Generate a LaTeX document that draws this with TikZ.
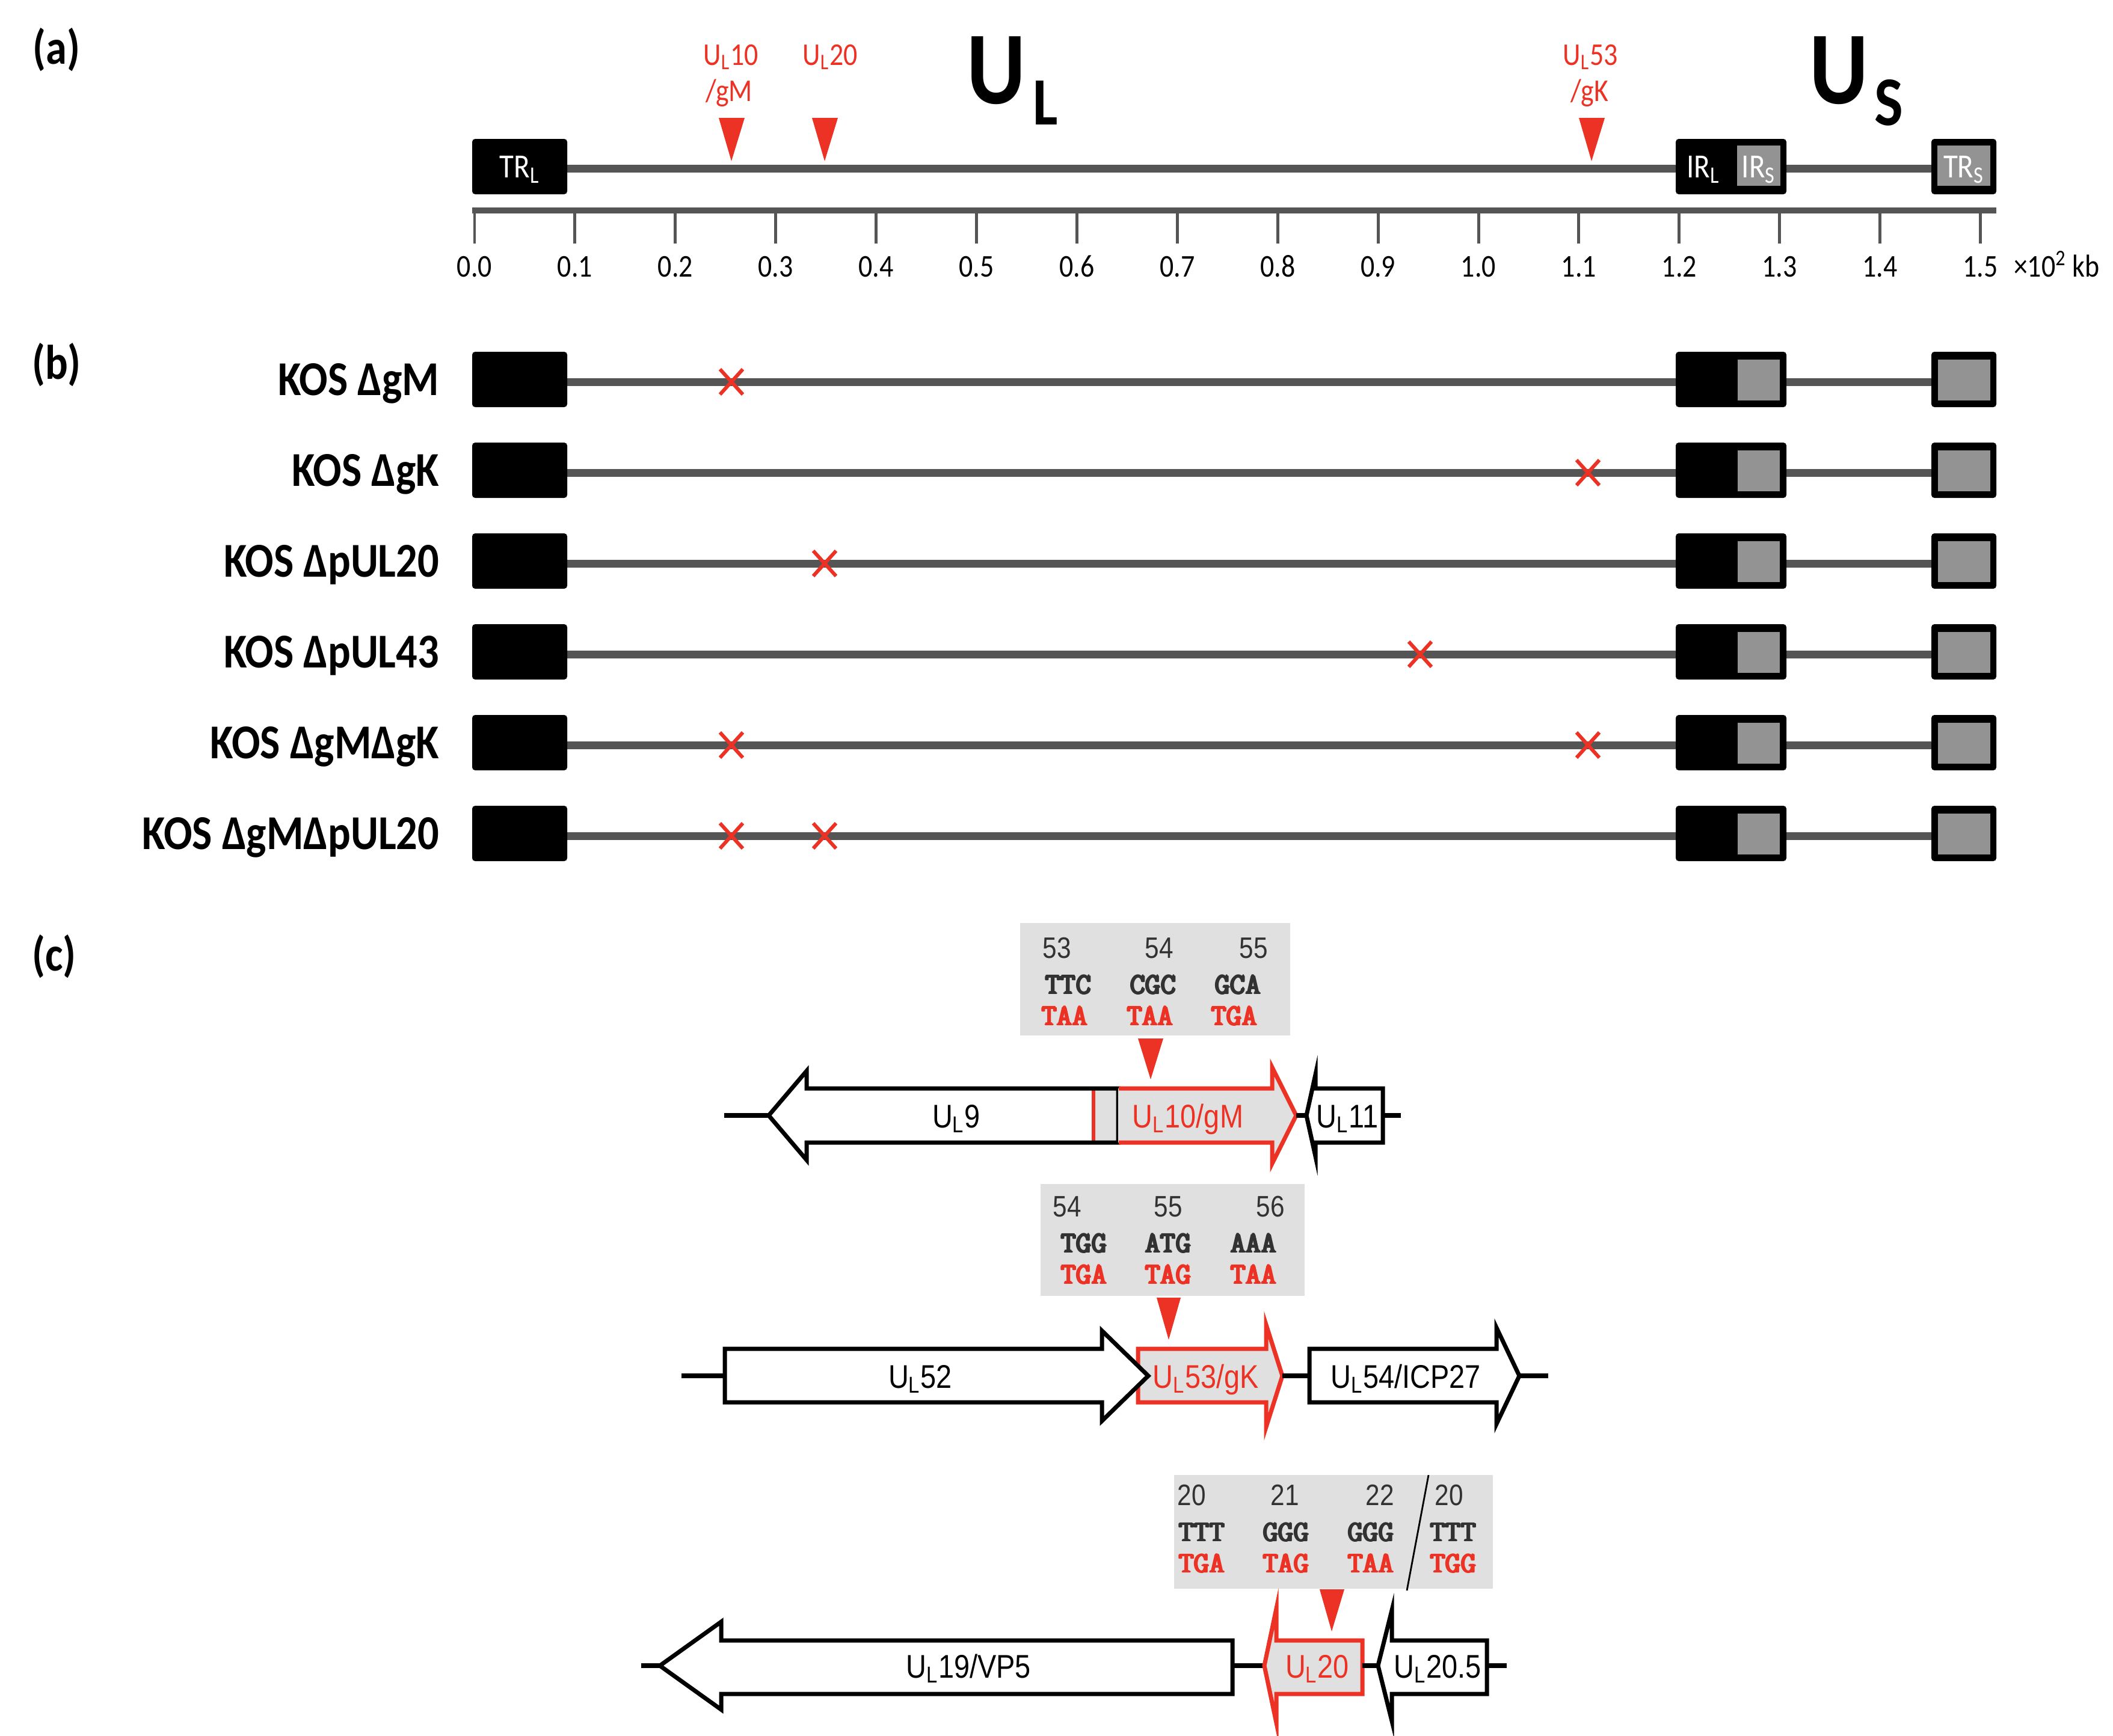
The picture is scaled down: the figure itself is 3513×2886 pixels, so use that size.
\documentclass[tikz,border=0pt]{standalone}
\usepackage{fontspec}
\setmainfont{Carlito}[FakeStretch=0.87]
\newfontfamily\arialn{Liberation Sans}[FakeStretch=0.86]
\newcommand{\courb}{\ttfamily\addfontfeatures{FakeStretch=1.1}}
\newcommand{\fatt}[1]{\rlap{#1}\rlap{\kern0.3pt#1}\rlap{\kern0.6pt#1}\rlap{\raisebox{0.3pt}{\kern0.3pt#1}}\rlap{\raisebox{-0.2pt}{\kern0.3pt#1}}\kern0.8pt#1}
\newcommand{\fsz}[1]{\fontsize{#1}{#1}\selectfont}
\definecolor{myred}{RGB}{236,50,36}
\definecolor{lineg}{RGB}{85,85,85}
\definecolor{irgray}{RGB}{147,147,147}
\definecolor{codbg}{RGB}{224,224,224}
\definecolor{numg}{RGB}{50,50,50}
\tikzset{
  txt/.style={inner sep=0pt, outer sep=0pt},
  panel/.style={txt, font=\fsz{23}\bfseries},
  ticklab/.style={txt, anchor=base, font=\fsz{15}},
  redlab/.style={txt, anchor=base, font=\fsz{15}, text=myred},
  boxlab/.style={txt, anchor=base, font=\fsz{16}, text=white},
  koslab/.style={txt, anchor=base east, font=\fsz{23}\bfseries},
  genelab/.style={txt, anchor=base, font=\arialn\fsz{15.5}},
  numlab/.style={txt, anchor=base, font=\arialn\fsz{14}, text=numg},
  codon/.style={txt, anchor=base, font=\fsz{14}\courb, text=numg},
  redcodon/.style={codon, text=myred},
  genome/.style={line width=3.7pt, draw=lineg},
  gbox/.style={fill=black, rounded corners=1.4pt},
  tri/.style={fill=myred},
  geneout/.style={draw=black, line width=2pt, fill=white, line join=miter},
  redgene/.style={draw=myred, line width=2pt, fill=codbg, line join=miter},
  stub/.style={draw=black, line width=2.3pt},
  xmark/.style={draw=myred, line width=1.7pt},
}
\begin{document}
\begin{tikzpicture}[x=0.01cm, y=-0.01cm]
\useasboundingbox (0,0) rectangle (3513,2886);
\fill[white] (0,0) rectangle (3513,2886);

% ---------------- panel (a) ----------------
\node[panel] (pa) at (94,83) {(a)};
\draw[genome] (943,280) -- (2786,280);
\draw[genome] (2970,280) -- (3211,280);
\fill[gbox] (785,231) rectangle (943,323);
\fill[gbox] (2786,231) rectangle (2970,323);
\fill[irgray] (2888,242) rectangle (2960,309);
\fill[gbox] (3211,231) rectangle (3319,323);
\fill[irgray] (3221,242) rectangle (3309,309);
\node[boxlab] (trl) at (864,295) {TR\textsubscript{L}};
\node[boxlab] (irl) at (2832,295) {IR\textsubscript{L}};
\node[boxlab] (irs) at (2924,295) {IR\textsubscript{S}};
\node[boxlab] (trs) at (3265,295) {TR\textsubscript{S}};
% big labels
\node[txt, anchor=base, font=\fsz{49}\bfseries] (ulU) at (1656,172) {U};
\node[txt, anchor=base, font=\fsz{32}\bfseries] (ulL) at (1738,207) {L};
\node[txt, anchor=base, font=\fsz{49}\bfseries] (usU) at (3057,172) {U};
\node[txt, anchor=base, font=\fsz{33}\bfseries] (usS) at (3140,208) {S};
% triangles and labels
\fill[tri] (1195,196) -- (1238,196) -- (1216,268) -- cycle;
\fill[tri] (1350,196) -- (1393,196) -- (1371,268) -- cycle;
\fill[tri] (2625,196) -- (2668,196) -- (2646,268) -- cycle;
\node[redlab] (l10a) at (1215,108) {U\textsubscript{L}10};
\node[redlab] (l10b) at (1212,168) {/gM};
\node[redlab] (l20a) at (1380,108) {U\textsubscript{L}20};
\node[redlab] (l53a) at (2644,108) {U\textsubscript{L}53};
\node[redlab] (l53b) at (2643,168) {/gK};
% ruler
\draw[draw=lineg, line width=2.85pt] (785,350) -- (3319,350);
\foreach \i/\lab in {0/0.0,1/0.1,2/0.2,3/0.3,4/0.4,5/0.5,6/0.6,7/0.7,8/0.8,9/0.9,10/1.0,11/1.1,12/1.2,13/1.3,14/1.4,15/1.5}{
  \draw[draw=lineg, line width=1.4pt] (789+166.9*\i,350) -- (789+166.9*\i,405);
  \node[ticklab] (tk\i) at (789+166.9*\i,460) {\lab};
}
\node[txt, anchor=base west, font=\fsz{15}] (unit) at (3348,460) {×10\textsuperscript{2} kb};

% ---------------- panel (b) ----------------
\node[panel] (pb) at (94,607) {(b)};
\foreach \k/\lab in {0/{KOS ΔgM},1/{KOS ΔgK},2/{KOS ΔpUL20},3/{KOS ΔpUL43},4/{KOS ΔgMΔgK},5/{KOS ΔgMΔpUL20}}{
  \pgfmathsetmacro{\yc}{631+151*\k}
  \draw[genome] (943,\yc+4) -- (2786,\yc+4);
  \draw[genome] (2970,\yc+4) -- (3211,\yc+4);
  \fill[gbox] (785,\yc-46) rectangle (943,\yc+46);
  \fill[gbox] (2786,\yc-46) rectangle (2970,\yc+46);
  \fill[irgray] (2889,\yc-33) rectangle (2959,\yc+35);
  \fill[gbox] (3211,\yc-46) rectangle (3319,\yc+46);
  \fill[irgray] (3222,\yc-33) rectangle (3309,\yc+35);
  \node[koslab] (kos\k) at (730,\yc+26) {\lab};
}
\foreach \xx/\k in {1216/0,2640/1,1371/2,2361/3,1216/4,2640/4,1216/5,1371/5}{
  \pgfmathsetmacro{\yc}{635+151*\k}
  \draw[xmark] (\xx-19,\yc-21) -- (\xx+19,\yc+21) (\xx-19,\yc+21) -- (\xx+19,\yc-21);
}

% ---------------- panel (c) ----------------
\node[panel] (pc) at (90,1591) {(c)};

% row 1 codon box
\fill[codbg] (1696,1535) rectangle (2145,1722);
\node[numlab] (n1a) at (1757,1593) {53};
\node[numlab] (n1b) at (1927,1593) {54};
\node[numlab] (n1c) at (2084,1593) {55};
\node[codon] (c1a) at (1776,1653) {\fatt{TTC}};
\node[codon] (c1b) at (1917,1653) {\fatt{CGC}};
\node[codon] (c1c) at (2058,1653) {\fatt{GCA}};
\node[redcodon] (r1a) at (1770,1705) {\fatt{TAA}};
\node[redcodon] (r1b) at (1912,1705) {\fatt{TAA}};
\node[redcodon] (r1c) at (2052,1705) {\fatt{TGA}};
\fill[tri] (1892,1727) -- (1934,1727) -- (1913,1795) -- cycle;

% row 1 genes
\draw[stub] (1204,1855) -- (1278,1855);
\fill[white] (1859,1810) -- (1341,1810) -- (1341,1781) -- (1278,1855) -- (1341,1929) -- (1341,1900) -- (1859,1900) -- cycle;
\fill[codbg] (1818,1810) rectangle (1859,1900);
\draw[myred, line width=1.6pt] (1818,1810) -- (1818,1900);
\draw[geneout, fill=none] (1859,1810) -- (1341,1810) -- (1341,1781) -- (1278,1855) -- (1341,1929) -- (1341,1900) -- (1859,1900) -- cycle;
\fill[codbg] (1859,1810) -- (2115,1810) -- (2115,1775) -- (2155,1855) -- (2115,1935) -- (2115,1900) -- (1859,1900) -- cycle;
\draw[myred, line width=2pt, line join=miter] (1860,1810) -- (2115,1810) -- (2115,1775) -- (2155,1855) -- (2115,1935) -- (2115,1900) -- (1860,1900);
\draw[stub] (2155,1855) -- (2172,1855);
\draw[geneout] (2299,1810) -- (2187,1810) -- (2187,1787) -- (2172,1855) -- (2187,1923) -- (2187,1900) -- (2299,1900) -- cycle;
\draw[stub] (2299,1855) -- (2329,1855);
\node[genelab] (g9) at (1590,1875) {U\textsubscript{L}9};
\node[genelab, text=myred] (g10) at (1975,1875) {U\textsubscript{L}10/gM};
\node[genelab] (g11) at (2240,1875) {U\textsubscript{L}11};

% row 2 codon box
\fill[codbg] (1730,1969) rectangle (2169,2155);
\node[numlab] (n2a) at (1774,2023) {54};
\node[numlab] (n2b) at (1942,2023) {55};
\node[numlab] (n2c) at (2112,2023) {56};
\node[codon] (c2a) at (1802,2083) {\fatt{TGG}};
\node[codon] (c2b) at (1942,2083) {\fatt{ATG}};
\node[codon] (c2c) at (2084,2083) {\fatt{AAA}};
\node[redcodon] (r2a) at (1802,2135) {\fatt{TGA}};
\node[redcodon] (r2b) at (1942,2135) {\fatt{TAG}};
\node[redcodon] (r2c) at (2084,2135) {\fatt{TAA}};
\fill[tri] (1923,2158) -- (1963,2158) -- (1943,2228) -- cycle;

% row 2 genes
\draw[stub] (1133,2288) -- (1205,2288);
\draw[redgene] (1892,2243) -- (2105,2243) -- (2105,2203) -- (2132,2288) -- (2105,2373) -- (2105,2332) -- (1892,2332) -- cycle;
\draw[geneout] (1205,2243) -- (1832,2243) -- (1832,2213) -- (1909,2288) -- (1832,2363) -- (1832,2332) -- (1205,2332) -- cycle;
\draw[stub] (2132,2288) -- (2177,2288);
\draw[geneout] (2177,2243) -- (2488,2243) -- (2488,2208) -- (2526,2288) -- (2488,2368) -- (2488,2332) -- (2177,2332) -- cycle;
\draw[stub] (2526,2288) -- (2574,2288);
\node[genelab] (g52) at (1530,2308) {U\textsubscript{L}52};
\node[genelab, text=myred] (g53) at (2005,2308) {U\textsubscript{L}53/gK};
\node[genelab] (g54) at (2337,2308) {U\textsubscript{L}54/ICP27};

% row 3 codon box
\fill[codbg] (1952,2453) rectangle (2482,2642);
\node[numlab] (n3a) at (1981,2503) {20};
\node[numlab] (n3b) at (2136,2503) {21};
\node[numlab] (n3c) at (2294,2503) {22};
\node[numlab] (n3d) at (2409,2503) {20};
\node[codon] (c3a) at (1998,2563) {\fatt{TTT}};
\node[codon] (c3b) at (2138,2563) {\fatt{GGG}};
\node[codon] (c3c) at (2279,2563) {\fatt{GGG}};
\node[codon] (c3d) at (2416,2563) {\fatt{TTT}};
\node[redcodon] (r3a) at (1998,2615) {\fatt{TGA}};
\node[redcodon] (r3b) at (2138,2615) {\fatt{TAG}};
\node[redcodon] (r3c) at (2279,2615) {\fatt{TAA}};
\node[redcodon] (r3d) at (2416,2615) {\fatt{TGG}};
\draw[black, line width=0.8pt] (2375,2453) -- (2339,2645);
\fill[tri] (2194,2643) -- (2235,2643) -- (2214,2713) -- cycle;

% row 3 genes
\draw[stub] (1066,2770) -- (1097,2770);
\draw[geneout] (2049,2728) -- (1199,2728) -- (1199,2697) -- (1097,2770) -- (1199,2843) -- (1199,2817) -- (2049,2817) -- cycle;
\draw[stub] (2049,2770) -- (2102,2770);
\draw[redgene] (2265,2728) -- (2122,2728) -- (2122,2675) -- (2102,2770) -- (2122,2865) -- (2122,2817) -- (2265,2817) -- cycle;
\draw[stub] (2265,2770) -- (2291,2770);
\draw[geneout] (2472,2728) -- (2314,2728) -- (2314,2678) -- (2291,2770) -- (2314,2862) -- (2314,2817) -- (2472,2817) -- cycle;
\draw[stub] (2472,2770) -- (2505,2770);
\node[genelab] (g19) at (1610,2790) {U\textsubscript{L}19/VP5};
\node[genelab, text=myred] (g20) at (2190,2790) {U\textsubscript{L}20};
\node[genelab] (g205) at (2390,2790) {U\textsubscript{L}20.5};
\end{tikzpicture}
\end{document}
